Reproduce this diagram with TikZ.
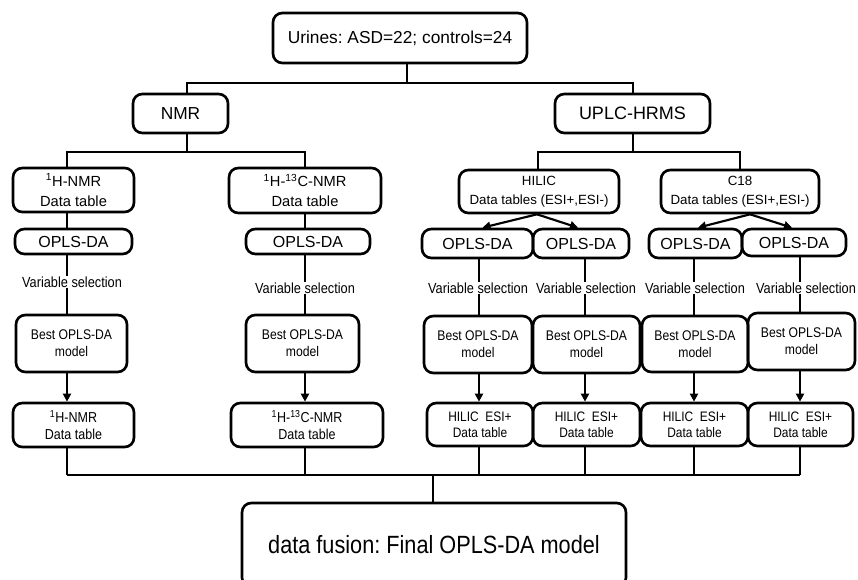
\documentclass[tikz,border=0pt]{standalone}
\usepackage{fontspec}
\setmainfont{Liberation Sans}
\newfontfamily\narrowfont[FakeStretch=0.87]{Liberation Sans}
\usetikzlibrary{arrows.meta,calc}
\newcommand\myfs[2]{\fontsize{#1}{#2}\selectfont}
\frenchspacing
\begin{document}
\begin{tikzpicture}[x=0.75pt,y=-0.75pt,
  box/.style={draw,line width=2pt,rounded corners=7pt,align=center,inner sep=0pt},
  sz/.style 2 args={minimum width=#1*0.75pt,minimum height=#2*0.75pt},
  ln/.style={line width=1.6pt},
  arr/.style={line width=1.6pt,-{Triangle[length=6pt,width=6pt]}},
  lbl/.style={inner sep=1pt,font=\narrowfont\myfs{11}{12}}]
\useasboundingbox (0,0) rectangle (858,580);

% boxes
\node[box,sz={254}{50},font=\myfs{13}{16}] (top) at (400,38) {Urines: ASD=22; controls=24};
\node[box,sz={95}{39},font=\myfs{13}{16}] (nmr) at (180.5,113.5) {NMR};
\node[box,sz={155}{39},font=\myfs{13.5}{16}] (uplc) at (632.5,113.5) {UPLC-HRMS};

\node[box,sz={121}{44},font=\myfs{11}{15}] (dt1) at (73.5,190) {\textsuperscript{1}H-NMR\\Data table};
\node[box,sz={152}{45},font=\myfs{11}{15}] (dt2) at (305,190.5) {\textsuperscript{1}H-\textsuperscript{13}C-NMR\\Data table};
\node[box,sz={160}{43},font=\myfs{10}{14.5}] (hilic) at (539,191.5) {HILIC\\Data tables (ESI+,ESI-)};
\node[box,sz={158}{43},font=\myfs{10}{14.5}] (c18) at (740,191.5) {C18\\Data tables (ESI+,ESI-)};

\node[box,sz={117}{25},font=\myfs{12}{14}] (op1) at (73.5,241.5) {OPLS-DA};
\node[box,sz={124}{25},font=\myfs{12}{14}] (op2) at (308,241.5) {OPLS-DA};
\node[box,sz={111}{29},font=\myfs{12}{14}] (op3) at (477.5,243.5) {OPLS-DA};
\node[box,sz={96}{29},font=\myfs{12}{14}] (op4) at (581,243.5) {OPLS-DA};
\node[box,sz={93}{29},font=\myfs{12}{14}] (op5) at (695.5,243.5) {OPLS-DA};
\node[box,sz={104}{27},font=\myfs{12}{14}] (op6) at (794,242.5) {OPLS-DA};

\node[lbl] (vs1) at (72,282) {Variable selection};
\node[lbl] (vs2) at (305,288) {Variable selection};
\node[lbl] (vs3) at (478,288) {Variable selection};
\node[lbl] (vs4) at (586,288) {Variable selection};
\node[lbl] (vs5) at (695,288) {Variable selection};
\node[lbl] (vs6) at (806,288) {Variable selection};

\tikzset{bst/.style={box,font=\narrowfont\myfs{10.5}{12.8}}}
\node[bst,sz={111}{57}] (b1) at (71.5,343.5) {Best OPLS-DA\\model};
\node[bst,sz={113}{57}] (b2) at (302.5,343.5) {Best OPLS-DA\\model};
\node[bst,sz={108}{57}] (b3) at (478,344.5) {Best OPLS-DA\\model};
\node[bst,sz={107}{57}] (b4) at (586.5,344.5) {Best OPLS-DA\\model};
\node[bst,sz={106}{56}] (b5) at (695,344) {Best OPLS-DA\\model};
\node[bst,sz={107}{57}] (b6) at (801.5,341.5) {Best OPLS-DA\\model};

\tikzset{tbl/.style={box,font=\narrowfont\myfs{10.3}{12.2}}}
\node[tbl,sz={121}{44},font=\narrowfont\myfs{10.8}{12.8}] (t1) at (73.5,425) {\textsuperscript{1}H-NMR\\Data table};
\node[tbl,sz={152}{44},font=\narrowfont\myfs{10.8}{12.8}] (t2) at (307,425) {\textsuperscript{1}H-\textsuperscript{13}C-NMR\\Data table};
\node[tbl,sz={106}{43}] (t3) at (480,424.5) {HILIC\ \ ESI+\\Data table};
\node[tbl,sz={107}{43}] (t4) at (586.5,424.5) {HILIC\ \ ESI+\\Data table};
\node[tbl,sz={107}{43}] (t5) at (694.5,424.5) {HILIC\ \ ESI+\\Data table};
\node[tbl,sz={105}{43}] (t6) at (800.5,424.5) {HILIC\ \ ESI+\\Data table};

\node[box,sz={384}{84},font=\narrowfont\myfs{18.7}{22}] (fin) at (434,545) {data fusion: Final OPLS-DA model};

% coordinates
\coordinate (k0) at (407,83);
\coordinate (k1) at (187,83);
\coordinate (k2) at (633,83);
\coordinate (n0) at (187,152);
\coordinate (u0) at (633,152);
\coordinate (c1) at (67,0);
\coordinate (c2) at (305,0);
\coordinate (c3) at (479,0);
\coordinate (c4) at (585,0);
\coordinate (c5) at (694,0);
\coordinate (c6) at (800,0);
\coordinate (hm) at (538,0);
\coordinate (cm) at (740,0);
\coordinate (m0) at (433,475);

% top tree
\draw[ln] (top.south -| k0) -- (k0);
\draw[ln] (nmr.north -| k1) -- (k1) -- (k2) -- (uplc.north -| k2);
\draw[ln] (nmr.south -| n0) -- (n0);
\draw[ln] (dt1.north -| c1) -- (c1 |- n0) -- (c2 |- n0) -- (dt2.north -| c2);
\draw[ln] (uplc.south -| u0) -- (u0);
\draw[ln] (hilic.north -| hm) -- (hm |- u0) -- (cm |- u0) -- (c18.north -| cm);

% data table to OPLS-DA
\draw[ln] (dt1.south -| c1) -- (op1.north -| c1);
\draw[ln] (dt2.south -| c2) -- (op2.north -| c2);
\draw[arr] ($(hilic.south)+(-2,0)$) -- ($(op3.north)+(5,0)$);
\draw[arr] ($(hilic.south)+(-2,0)$) -- ($(op4.north)+(-3,0)$);
\draw[arr] ($(c18.south)+(10,0)$) -- ($(op5.north)+(2.5,0)$);
\draw[arr] ($(c18.south)+(10,0)$) -- ($(op6.north)+(-2,0)$);

% columns
\foreach \i in {1,...,6}{
  \draw[ln] (op\i.south -| c\i) -- ([yshift=-1pt]vs\i.north -| c\i);
  \draw[ln] ([yshift=1pt]vs\i.south -| c\i) -- (b\i.north -| c\i);
  \draw[arr] (b\i.south -| c\i) -- (t\i.north -| c\i);
  \draw[ln] (t\i.south -| c\i) -- (c\i |- m0);
}
\draw[ln] (c1 |- m0) -- (c6 |- m0);
\draw[ln] (m0) -- (fin.north -| m0);
\end{tikzpicture}
\end{document}
